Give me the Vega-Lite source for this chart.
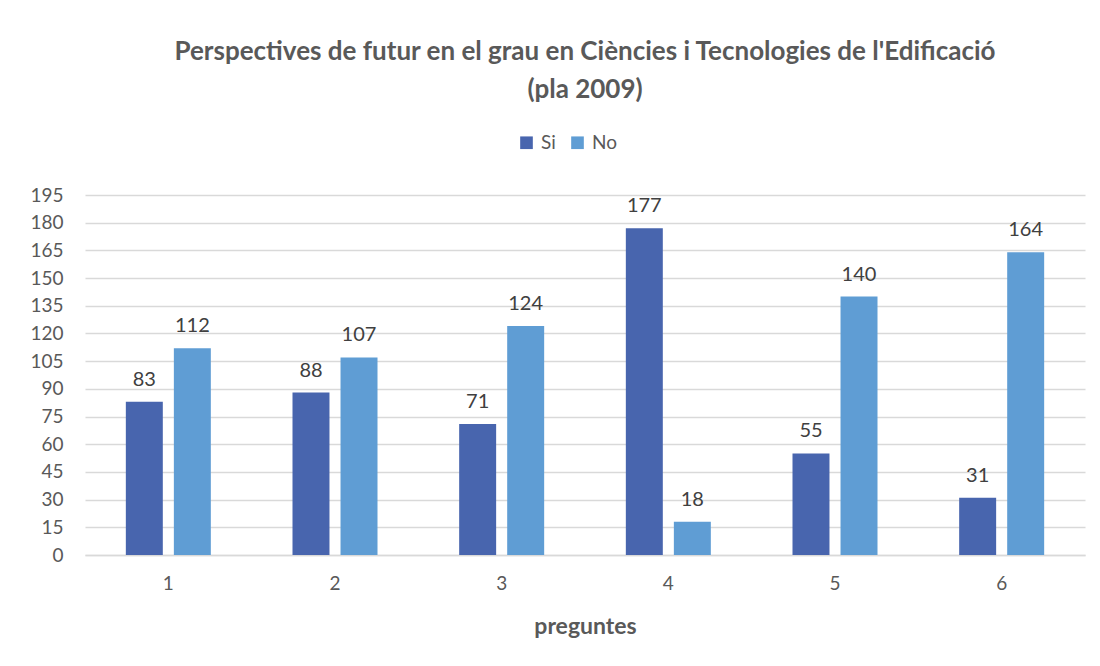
{
  "$schema": "https://vega.github.io/schema/vega-lite/v6.json",
  "autosize": "none",
  "width": 1000,
  "height": 360,
  "padding": {"left": 85, "top": 195, "right": 15, "bottom": 111},
  "background": "white",
  "title": {
    "text": ["Perspectives de futur en el grau en Ciències i Tecnologies de l'Edificació", "(pla 2009)"],
    "fontSize": 26,
    "fontWeight": "bold",
    "color": "#595959",
    "font": "Lato",
    "anchor": "middle",
    "lineHeight": 38,
    "offset": 30
  },
  "data": {
    "values": [
      {"pregunta": "1", "resposta": "Si", "valor": 83},
      {"pregunta": "1", "resposta": "No", "valor": 112},
      {"pregunta": "2", "resposta": "Si", "valor": 88},
      {"pregunta": "2", "resposta": "No", "valor": 107},
      {"pregunta": "3", "resposta": "Si", "valor": 71},
      {"pregunta": "3", "resposta": "No", "valor": 124},
      {"pregunta": "4", "resposta": "Si", "valor": 177},
      {"pregunta": "4", "resposta": "No", "valor": 18},
      {"pregunta": "5", "resposta": "Si", "valor": 55},
      {"pregunta": "5", "resposta": "No", "valor": 140},
      {"pregunta": "6", "resposta": "Si", "valor": 31},
      {"pregunta": "6", "resposta": "No", "valor": 164}
    ]
  },
  "encoding": {
    "x": {
      "field": "pregunta",
      "type": "nominal",
      "scale": {"paddingInner": 0.49, "paddingOuter": 0.245},
      "axis": {
        "title": "preguntes",
        "titleFontSize": 23,
        "titleFontWeight": "bold",
        "titleColor": "#595959",
        "titleFont": "Lato",
        "titlePadding": 22,
        "labelAngle": 0,
        "labelFontSize": 19,
        "labelFont": "Lato",
        "labelColor": "#595959",
        "labelPadding": 19,
        "ticks": false,
        "domainColor": "#d9d9d9",
        "domainWidth": 1.5
      }
    },
    "xOffset": {
      "field": "resposta",
      "type": "nominal",
      "sort": ["Si", "No"],
      "scale": {"paddingInner": 0.23, "paddingOuter": 0}
    },
    "y": {
      "field": "valor",
      "type": "quantitative",
      "scale": {"domain": [0, 195], "nice": false},
      "axis": {
        "title": null,
        "values": [0, 15, 30, 45, 60, 75, 90, 105, 120, 135, 150, 165, 180, 195],
        "labelFontSize": 19,
        "labelFont": "Lato",
        "labelColor": "#595959",
        "labelPadding": 22,
        "ticks": false,
        "domain": false,
        "gridColor": "#d9d9d9",
        "gridWidth": 1.5
      }
    }
  },
  "layer": [
    {
      "mark": {"type": "bar"},
      "encoding": {
        "color": {
          "field": "resposta",
          "type": "nominal",
          "sort": ["Si", "No"],
          "scale": {"domain": ["Si", "No"], "range": ["#4865AE", "#5F9DD4"]},
          "legend": {
            "title": null,
            "orient": "none",
            "direction": "horizontal",
            "legendX": 432,
            "legendY": -62,
            "symbolType": "square",
            "symbolSize": 160,
            "symbolStrokeWidth": 0,
            "labelFontSize": 19,
            "labelFont": "Lato",
            "labelColor": "#595959",
            "columnPadding": 12,
            "labelOffset": 5
          }
        }
      }
    },
    {
      "mark": {"type": "text", "baseline": "bottom", "dy": -12, "fontSize": 20, "font": "Lato", "color": "#404040"},
      "encoding": {
        "text": {"field": "valor", "type": "quantitative"}
      }
    }
  ],
  "config": {"view": {"stroke": null}}
}
